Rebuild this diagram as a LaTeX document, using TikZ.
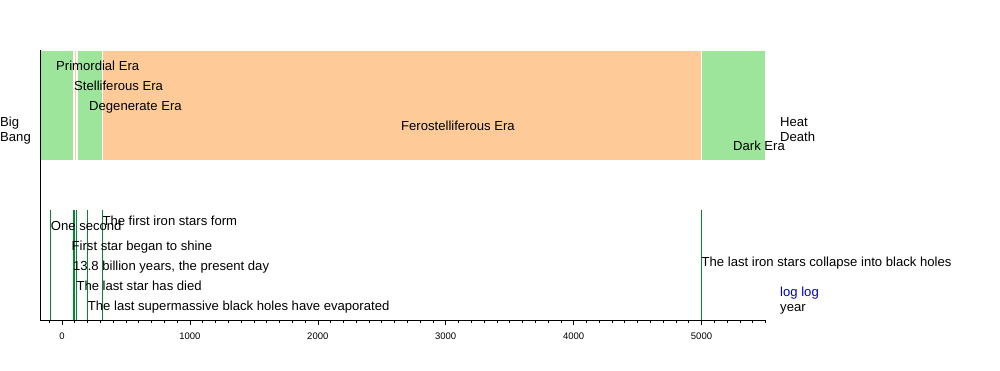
\documentclass[tikz,border=0pt]{standalone}
\usepackage{fontspec}
\setmainfont{Liberation Sans}
\definecolor{eragreen}{HTML}{9CE59A}
\definecolor{eraorange}{HTML}{FECB98}
\definecolor{evgreen}{HTML}{008833}
\definecolor{loglink}{HTML}{0000CC}
\begin{document}
\begin{tikzpicture}[x=1pt,y=-1pt,
  lbl/.style={anchor=base west,inner sep=0pt,font=\fontsize{13.1}{15}\selectfont},
  ticklbl/.style={anchor=base,inner sep=0pt,font=\fontsize{9.5}{11}\selectfont},
  bar/.style={draw=white,line width=0.8pt},
  evline/.style={draw=evgreen,line width=0.9pt},
  axisline/.style={draw=black,line width=0.8pt}]
\useasboundingbox[fill=white] (0,0) rectangle (1000,370);
% era bars
\path[bar,fill=eragreen]  (40,50) rectangle (73.5,160);
\path[bar,fill=eraorange] (74.5,50) rectangle (76.5,160);
\path[bar,fill=eragreen]  (77,50) rectangle (102.5,160);
\path[bar,fill=eraorange] (102.5,50) rectangle (701.5,160);
\path[bar,fill=eragreen]  (701.5,50) rectangle (765.5,160);
% era labels
\node[lbl] (primordial) at (56,70) {Primordial Era};
\node[lbl] (stelliferous) at (74,90) {Stelliferous Era};
\node[lbl] (degenerate) at (89,110) {Degenerate Era};
\node[lbl] (ferostelliferous) at (401,130) {Ferostelliferous Era};
\node[lbl] (dark) at (733,150) {Dark Era};
\node[lbl] (bigbang1) at (0,126) {Big};
\node[lbl] (bigbang2) at (0,141) {Bang};
\node[lbl] (heat1) at (780,126) {Heat};
\node[lbl] (heat2) at (780,141) {Death};
% axes
\coordinate (ytop) at (40,50);
\coordinate (origin) at (40,320);
\coordinate (xend) at (765.5,320);
\draw[axisline] (ytop) -- (origin) -- (xend);
\foreach \u in {-100,0,...,5500}{
  \draw[black,line width=0.6pt] ({62+0.1279*\u},320) -- ++(0,2.7);
}
\foreach \u in {0,1000,...,5000}{
  \draw[black,line width=0.6pt] ({62+0.1279*\u},320) -- ++(0,5);
  \node[ticklbl] at ({62+0.1279*\u},339) {\u};
}
% events
\foreach \name/\xx in {e1/50.7,e2/73.7,e3/74.9,e4/76.3,e5/87.7,e6/102.3,e7/701.5}{
  \coordinate (\name top) at (\xx,210);
  \coordinate (\name bot) at (\xx,320);
  \draw[evline] (\name top) -- (\name bot);
}
\node[lbl] (onesecond) at (50.7,230) {One second};
\node[lbl] (ironform) at (102.3,225) {The first iron stars form};
\node[lbl] (firststar) at (71.5,250) {First star began to shine};
\node[lbl] (present) at (73,270.5) {13.8 billion years, the present day};
\node[lbl] (laststar) at (76.3,290.5) {The last star has died};
\node[lbl] (smbh) at (87.7,310.5) {The last supermassive black holes have evaporated};
\node[lbl] (ironcollapse) at (701.5,266) {The last iron stars collapse into black holes};
\node[lbl,text=loglink] (loglog) at (780,296.5) {log log};
\node[lbl] (year) at (780,311) {year};
\end{tikzpicture}
\end{document}
